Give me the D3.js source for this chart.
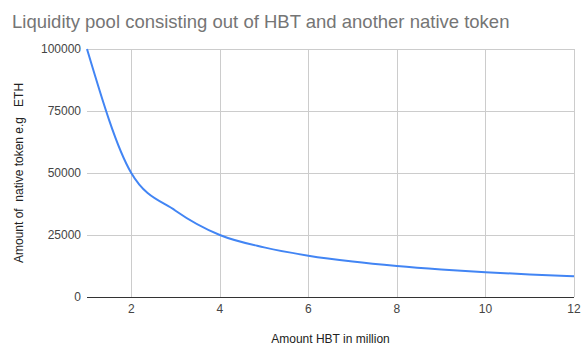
<!DOCTYPE html>
<html>
<head>
<meta charset="utf-8">
<script src="https://cdn.jsdelivr.net/npm/d3@7"></script>
<style>
  body { margin: 0; background: #fff; }
  text { font-family: "Liberation Sans", Arial, sans-serif; }
</style>
</head>
<body>
<div id="chart"></div>
<script>
// HBT amount (million) vs native token amount
const hbt = [1, 2, 3, 4, 5, 6, 7, 8, 9, 10, 11, 12];
const native = [100000, 50000, 34800, 25000, 20000, 16667, 14286, 12500, 11111, 10000, 9091, 8333];
const xTicks = [2, 4, 6, 8, 10, 12];
const yTicks = [0, 25000, 50000, 75000, 100000];

const W = 586, H = 353;
const m = { left: 87, right: 12, top: 49, bottom: 56 };

const svg = d3.select("#chart").append("svg")
  .attr("width", W)
  .attr("height", H);

const x = d3.scaleLinear().domain([1, 12]).range([m.left, W - m.right]);
const y = d3.scaleLinear().domain([0, 100000]).range([H - m.bottom, m.top]);

// title
svg.append("text")
  .attr("x", 12).attr("y", 28)
  .attr("font-size", 18.5)
  .attr("fill", "#757575")
  .text("Liquidity pool consisting out of HBT and another native token");

// gridlines
svg.append("g").selectAll("line.h")
  .data(yTicks.filter(d => d > 0))
  .enter().append("line")
  .attr("x1", m.left).attr("x2", W - m.right)
  .attr("y1", d => Math.round(y(d)) + 0.5).attr("y2", d => Math.round(y(d)) + 0.5)
  .attr("stroke", "#cccccc");

svg.append("g").selectAll("line.v")
  .data(xTicks)
  .enter().append("line")
  .attr("y1", m.top).attr("y2", H - m.bottom)
  .attr("x1", d => Math.round(x(d)) + 0.5).attr("x2", d => Math.round(x(d)) + 0.5)
  .attr("stroke", "#cccccc");

// y ticks labels
svg.append("g").selectAll("text")
  .data(yTicks)
  .enter().append("text")
  .attr("x", 81)
  .attr("y", d => y(d) + 4)
  .attr("text-anchor", "end")
  .attr("font-size", 12)
  .attr("fill", "#444")
  .text(d => d);

// x tick labels
svg.append("g").selectAll("text")
  .data(xTicks)
  .enter().append("text")
  .attr("x", d => x(d))
  .attr("y", 313)
  .attr("text-anchor", "middle")
  .attr("font-size", 12)
  .attr("fill", "#444")
  .text(d => d);

// baseline
svg.append("line")
  .attr("x1", m.left).attr("x2", W - m.right)
  .attr("y1", Math.round(y(0)) + 0.5).attr("y2", Math.round(y(0)) + 0.5)
  .attr("stroke", "#333").attr("stroke-width", 1);

// curve
const line = d3.line()
  .x((d, i) => x(hbt[i]))
  .y(d => y(d))
  .curve(d3.curveMonotoneX);

svg.append("path")
  .datum(native)
  .attr("d", line)
  .attr("fill", "none")
  .attr("stroke", "#4285f4")
  .attr("stroke-width", 2);

// axis titles
svg.append("text")
  .attr("x", (m.left + W - m.right) / 2)
  .attr("y", 343)
  .attr("text-anchor", "middle")
  .attr("font-size", 12)
  .attr("fill", "#222")
  .text("Amount HBT in million");

svg.append("text")
  .attr("transform", `translate(23,${(m.top + H - m.bottom) / 2}) rotate(-90)`)
  .attr("text-anchor", "middle")
  .attr("font-size", 12)
  .attr("fill", "#222")
  .style("white-space", "pre")
  .text("Amount of  native token e.g   ETH");
</script>
</body>
</html>
